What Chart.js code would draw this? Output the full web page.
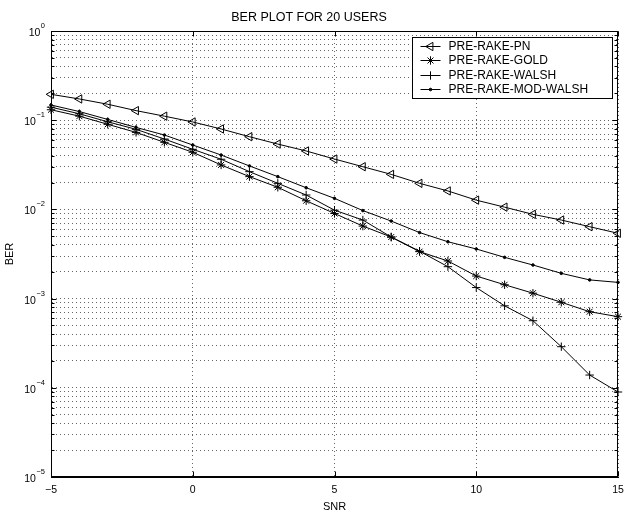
<!DOCTYPE html>
<html lang="en">
<head>
<meta charset="UTF-8">
<title>BER plot for 20 users</title>
<style>
  html, body { margin: 0; padding: 0; background: #fff; }
</style>
</head>
<body>
<canvas id="berChart" width="632" height="512"></canvas>

<script src="https://cdn.jsdelivr.net/npm/chart.js@4.4.0/dist/chart.umd.min.js"></script>
<script>
    // SNR points (dB)
    var snr = [-5, -4, -3, -2, -1, 0, 1, 2, 3, 4, 5, 6, 7, 8, 9, 10, 11, 12, 13, 14, 15];

    // BER
    var berPn = [0.195, 0.173, 0.151, 0.128, 0.111, 0.0955, 0.0797, 0.0653, 0.054, 0.0452, 0.0367,
                 0.0301, 0.0247, 0.0196, 0.0161, 0.0127, 0.0106, 0.0088, 0.0076, 0.0064, 0.0054];
    var berGold = [0.131, 0.111, 0.090, 0.073, 0.0565, 0.0437, 0.0315, 0.0233, 0.0177, 0.0125, 0.0090,
                   0.0065, 0.0049, 0.00336, 0.00264, 0.00179, 0.00143, 0.00115, 0.00091, 0.000713, 0.000627];
    var berWalsh = [0.140, 0.118, 0.096, 0.079, 0.0615, 0.0472, 0.0365, 0.0265, 0.0196, 0.0145, 0.0098,
                    0.0076, 0.0049, 0.0034, 0.00228, 0.00133, 0.00083, 0.000565, 0.000289, 0.000139, 0.0000897];
    var berModWalsh = [0.148, 0.125, 0.102, 0.083, 0.0682, 0.0527, 0.0407, 0.0307, 0.0233, 0.0175, 0.0133,
                       0.0097, 0.0074, 0.0055, 0.00434, 0.0036, 0.0029, 0.00238, 0.00192, 0.00162, 0.00152];

    var seriesNames = ['PRE-RAKE-PN', 'PRE-RAKE-GOLD', 'PRE-RAKE-WALSH', 'PRE-RAKE-MOD-WALSH'];

    // axis ticks
    var xTicks = [-5, 0, 5, 10, 15];
    var yDecades = [1e-5, 1e-4, 1e-3, 1e-2, 1e-1, 1];
    var yDecadeExp = ['\u22125', '\u22124', '\u22123', '\u22122', '\u22121', '0'];
    var yMinorSteps = [2, 3, 4, 5, 6, 7, 8, 9];

    var fontFamily = '"Liberation Sans", Arial, Helvetica, sans-serif';
    Chart.defaults.font.family = fontFamily;
    Chart.defaults.color = '#000';

    function pairs(ys) {
        return snr.map(function (x, i) { return { x: x, y: ys[i] }; });
    }

    function lineSet(label, ys, style) {
        return Object.assign({
            label: label,
            data: pairs(ys),
            borderColor: '#000',
            borderWidth: 1,
            pointBorderColor: '#000',
            pointBorderWidth: 1,
            pointBackgroundColor: 'rgba(0,0,0,0)',
            pointHoverRadius: 0,
            tension: 0,
            fill: false,
            clip: false
        }, style);
    }

    var datasets = [
        lineSet(seriesNames[0], berPn, { pointStyle: 'triangle', rotation: -90, pointRadius: 4.8 }),
        lineSet(seriesNames[1], berGold, { pointStyle: 'star', pointRadius: 4.2 }),
        lineSet(seriesNames[2], berWalsh, { pointStyle: 'cross', pointRadius: 4.2 }),
        lineSet(seriesNames[3], berModWalsh, { pointStyle: 'circle', pointRadius: 1.3, pointBackgroundColor: '#000' })
    ];

    // inside tick marks + full box, MATLAB style
    var axesBox = {
        id: 'axesBox',
        afterDatasetsDraw: function (chart) {
            var ctx = chart.ctx, a = chart.chartArea;
            var xs = chart.scales.x, ys = chart.scales.y;
            var L = Math.round(a.left) + 0.5, R = Math.round(a.right) - 0.5;
            var T = Math.round(a.top) + 0.5, B = Math.round(a.bottom) - 0.5;
            ctx.save();
            ctx.strokeStyle = '#000';
            ctx.lineWidth = 1;
            ctx.beginPath();
            xTicks.forEach(function (v) {
                var px = Math.round(xs.getPixelForValue(v)) + 0.5;
                ctx.moveTo(px, B); ctx.lineTo(px, B - 5);
                ctx.moveTo(px, T); ctx.lineTo(px, T + 5);
            });
            ys.ticks.forEach(function (t) {
                var py = Math.round(ys.getPixelForValue(t.value)) + 0.5;
                var len = yDecades.indexOf(t.value) >= 0 ? 5 : 3;
                ctx.moveTo(L, py); ctx.lineTo(L + len, py);
                ctx.moveTo(R, py); ctx.lineTo(R - len, py);
            });
            ctx.stroke();
            ctx.strokeRect(L, T, R - L, B - T);
            ctx.restore();
        },
        afterDraw: function (chart) {
            var ctx = chart.ctx, a = chart.chartArea;
            var ys = chart.scales.y;
            ctx.save();
            ctx.fillStyle = '#000';
            ctx.textBaseline = 'alphabetic';
            ctx.textAlign = 'right';
            // y labels as 10 with a raised exponent
            yDecades.forEach(function (v, i) {
                var py = ys.getPixelForValue(v);
                var right = a.left - 6;
                ctx.font = '7.5px ' + fontFamily;
                var ew = ctx.measureText(yDecadeExp[i]).width;
                ctx.fillText(yDecadeExp[i], right, py - 3);
                ctx.font = '10.5px ' + fontFamily;
                ctx.fillText('10', right - ew - 0.5, py + 5);
            });

            // legend box in the top right corner of the axes
            var bw = 200, bh = 61;
            var bx = Math.round(a.right - 6 - bw) + 0.5, by = Math.round(a.top + 6) + 0.5;
            ctx.fillStyle = '#fff';
            ctx.fillRect(bx, by, bw, bh);
            ctx.strokeStyle = '#000';
            ctx.lineWidth = 1;
            ctx.strokeRect(bx, by, bw, bh);
            ctx.font = '12px ' + fontFamily;
            ctx.textAlign = 'left';
            ctx.textBaseline = 'middle';
            chart.data.datasets.forEach(function (ds, i) {
                var ry = Math.round(by + 8 + i * 14.5) + 0.5;
                ctx.beginPath();
                ctx.moveTo(bx + 8, ry);
                ctx.lineTo(bx + 28, ry);
                ctx.stroke();
                ctx.fillStyle = ds.pointBackgroundColor;
                Chart.helpers.drawPoint(ctx, {
                    pointStyle: ds.pointStyle,
                    rotation: ds.rotation || 0,
                    radius: ds.pointRadius,
                    borderWidth: 1
                }, bx + 18, ry);
                ctx.fillStyle = '#000';
                ctx.fillText(ds.label, bx + 36, ry + 0.5);
            });
            ctx.restore();
        }
    };

    var ctx = document.getElementById('berChart').getContext('2d');
    var berChart = new Chart(ctx, {
        type: 'line',
        data: { datasets: datasets },
        plugins: [axesBox],
        options: {
            responsive: false,
            animation: false,
            events: [],
            layout: { padding: { left: 0, right: 14, top: 0, bottom: 0 } },
            plugins: {
                legend: { display: false },
                tooltip: { enabled: false },
                title: {
                    display: true,
                    text: 'BER PLOT FOR 20 USERS',
                    color: '#000',
                    font: { size: 12.5, weight: 'normal', lineHeight: 1.2 },
                    padding: { top: 10, bottom: 6 }
                }
            },
            scales: {
                x: {
                    type: 'linear',
                    min: -5,
                    max: 15,
                    afterBuildTicks: function (scale) {
                        scale.ticks = xTicks.map(function (v) { return { value: v }; });
                    },
                    afterFit: function (scale) { scale.height = 35; },
                    ticks: {
                        padding: 7,
                        font: { size: 10.5 },
                        color: '#000',
                        maxRotation: 0,
                        callback: function (v) { return String(v).replace('-', '\u2212'); }
                    },
                    grid: { color: 'rgba(0,0,0,0.6)', lineWidth: 1, drawTicks: false },
                    border: { display: true, color: '#000', width: 1, dash: [1, 3] },
                    title: { display: true, text: 'SNR', font: { size: 11, lineHeight: 1 }, color: '#000', padding: { top: 0, bottom: 0 } }
                },
                y: {
                    type: 'logarithmic',
                    min: 1e-5,
                    max: 1,
                    afterBuildTicks: function (scale) {
                        var t = [];
                        yDecades.forEach(function (d, i) {
                            t.push({ value: d, major: true });
                            if (i < yDecades.length - 1) {
                                yMinorSteps.forEach(function (m) { t.push({ value: d * m }); });
                            }
                        });
                        scale.ticks = t;
                    },
                    afterFit: function (scale) { scale.width = 51; },
                    ticks: { display: false },
                    grid: { color: 'rgba(0,0,0,0.6)', lineWidth: 1, drawTicks: false },
                    border: { display: true, color: '#000', width: 1, dash: [1, 3] },
                    title: { display: true, text: 'BER', font: { size: 11 }, color: '#000', padding: { top: 3, bottom: 0 } }
                }
            }
        }
    });
</script>
</body>
</html>
